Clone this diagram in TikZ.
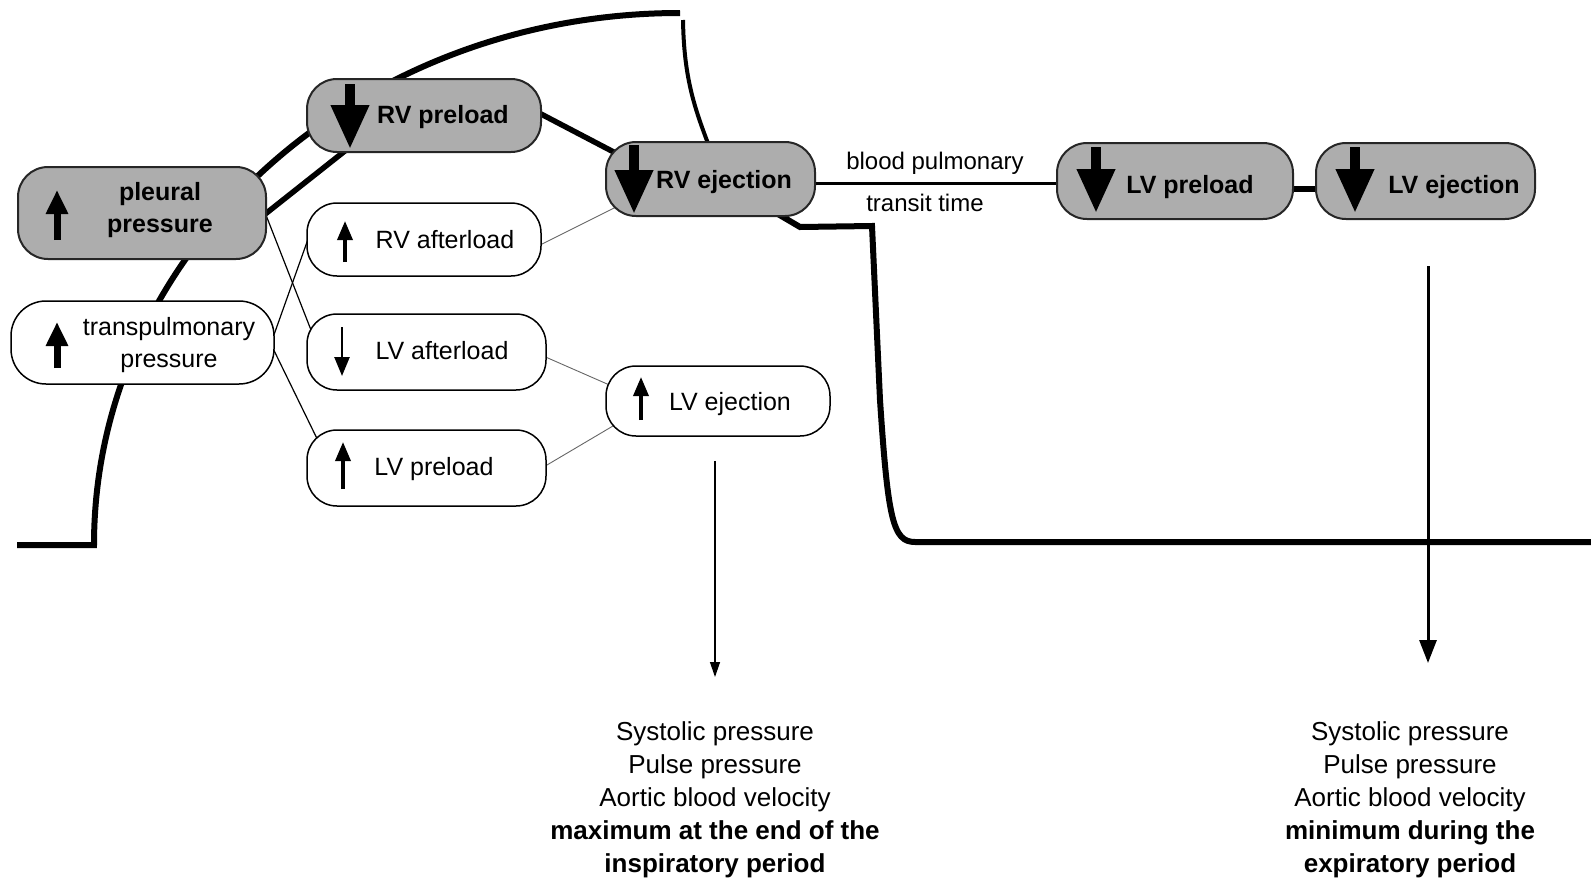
\documentclass[tikz,border=0pt]{standalone}
\usepackage{fontspec}
\setmainfont{Liberation Sans}
\usetikzlibrary{arrows.meta,calc}
\pgfdeclarelayer{bg}
\pgfsetlayers{bg,main}
\begin{document}
\begin{tikzpicture}[x=1pt,y=-1pt,
  gbox/.style={draw=black!85, line width=2pt, fill=black!32, rounded corners=30pt, inner sep=0pt},
  wbox/.style={draw=black, line width=1.5pt, fill=white, rounded corners=30pt, inner sep=0pt},
  btxt/.style={font=\bfseries\fontsize{25}{32}\selectfont, align=center, inner sep=0pt},
  ntxt/.style={font=\fontsize{25}{32}\selectfont, align=center, inner sep=0pt},
  ltxt/.style={font=\fontsize{24}{30}\selectfont, inner sep=0pt},
  btext/.style={font=\fontsize{26}{33}\selectfont, align=center, inner sep=0pt},
  bigarr/.style={line width=10pt, -{Triangle[width=36pt,length=44pt]}},
  midarr/.style={line width=7pt, -{Triangle[width=21pt,length=24pt]}},
  smarr/.style={line width=3.5pt, -{Triangle[width=15pt,length=19pt]}},
  thickc/.style={line width=5.5pt},
  curve/.style={line width=6pt},
  thinc/.style={line width=1.2pt},
  lightc/.style={line width=0.9pt, black!60},
  downarr/.style={line width=1.3pt, -{Triangle[width=10pt,length=15pt]}},
  downarrb/.style={line width=3pt, -{Triangle[width=17pt,length=23pt]}}
]
\useasboundingbox (0,0) rectangle (1591,881);

% boxes
\node[gbox, minimum width=248pt, minimum height=92pt] (pl) at (142,213) {};
\node[gbox, minimum width=234pt, minimum height=73pt] (rvp) at (424,115.5) {};
\node[gbox, minimum width=209pt, minimum height=74pt] (rve) at (710.5,179) {};
\node[wbox, minimum width=234pt, minimum height=73pt] (rva) at (424,239.5) {};
\node[wbox, rounded corners=35pt, minimum width=263pt, minimum height=83pt] (tp) at (142.5,342.5) {};
\node[wbox, minimum width=239pt, minimum height=76pt] (lva) at (426.5,352) {};
\node[wbox, minimum width=224pt, minimum height=70pt] (lve) at (718,401) {};
\node[wbox, minimum width=239pt, minimum height=76pt] (lvp) at (426.5,468) {};
\node[gbox, minimum width=236pt, minimum height=76pt] (lvpg) at (1175,181) {};
\node[gbox, minimum width=219pt, minimum height=76pt] (lveg) at (1425.5,181) {};

% texts
\node[btxt] (plt) at (160,210) {pleural\\pressure};
\node[btxt] (rvpt) at (443,117) {RV preload};
\node[btxt] (rvet) at (724,182) {RV ejection};
\node[ntxt] (rvat) at (445,240) {RV afterload};
\node[ntxt] (tpt) at (169,345) {transpulmonary\\pressure};
\node[ntxt] (lvat) at (442,351) {LV afterload};
\node[ntxt] (lvet) at (730,404) {LV ejection};
\node[ntxt] (lvpt) at (434,469) {LV preload};
\node[btxt] (lvpgt) at (1190,187) {LV preload};
\node[btxt] (lvegt) at (1454,187) {LV ejection};
\node[ltxt] (bpl) at (935,163) {blood pulmonary};
\node[ltxt] (ttl) at (925,203) {transit time};

\node[btext] (ltext) at (715,800) {Systolic pressure\\Pulse pressure\\Aortic blood velocity\\\textbf{maximum at the end of the}\\\textbf{inspiratory period}};
\node[btext] (rtext) at (1410,800) {Systolic pressure\\Pulse pressure\\Aortic blood velocity\\\textbf{minimum during the}\\\textbf{expiratory period}};

% arrows inside boxes
\draw[midarr] (57,240) -- (57,190);
\draw[midarr] (57,368) -- (57,322);
\draw[bigarr] (350,84) -- (350,149);
\draw[bigarr] (634,145) -- (634,214);
\draw[bigarr] (1096,147) -- (1096,213);
\draw[bigarr] (1355,147) -- (1355,213);
\draw[smarr] (345,262) -- (345,221);
\draw[smarr, line width=2.5pt] (342,327) -- (342,376);
\draw[smarr] (343,489) -- (343,442);
\draw[smarr] (641,420) -- (641,377);

% outgoing arrows
\coordinate (lend) at (715,677);
\coordinate (rend) at (1428,663);
\draw[downarr] (lve.south) ++(-3,24) -- (lend);
\draw[downarrb] (lveg.south) ++(2.5,46) -- (rend);

\begin{pgfonlayer}{bg}
  % pressure curve
  \draw[curve] (17,545) -- (94,545) .. controls (94,251) and (356,13) .. (680,13);
  \draw[line width=4pt] (683,20) .. controls (684,80) and (695,110) .. ($(rve.center)+(2,-24)$);
  \draw[curve, line join=miter] ($(rve.center)+(64,33)$) -- (800,227) -- (872,226) -- (880,400)
     .. controls (888,520) and (893,542) .. (915,542) -- (1591,542);
  % connectors
  \draw[thickc] ($(pl.center)+(98,21)$) -- ($(rvp.center)+(-64,23.5)$);
  \draw[thickc] ($(rvp.center)+(96,-12.5)$) -- ($(rve.center)+(-60.5,-8)$);
  \draw[line width=3pt] ($(rve.center)+(0,4)$) -- ($(lvpg.center)+(0,2)$);
  \draw[thickc] ($(lvpg.center)+(0,8)$) -- ($(lveg.center)+(0,8)$);
  \draw[thinc] ($(pl.center)+(113,-26)$) -- ($(lva.center)+(-106.5,1)$);
  \draw[thinc] ($(tp.center)+(122.5,17.5)$) -- ($(rva.center)+(-112,-11.5)$);
  \draw[thinc] ($(tp.center)+(122.5,-10.5)$) -- ($(lvp.center)+(-101.5,-13)$);
  \draw[lightc] ($(rva.center)+(101,13)$) -- ($(rve.center)+(-70.5,16)$);
  \draw[lightc] ($(lva.center)+(98.5,-4)$) -- ($(lve.center)+(-88,-7)$);
  \draw[lightc] ($(lvp.center)+(98.5,10)$) -- ($(lve.center)+(-78,9)$);
\end{pgfonlayer}
\end{tikzpicture}
\end{document}
